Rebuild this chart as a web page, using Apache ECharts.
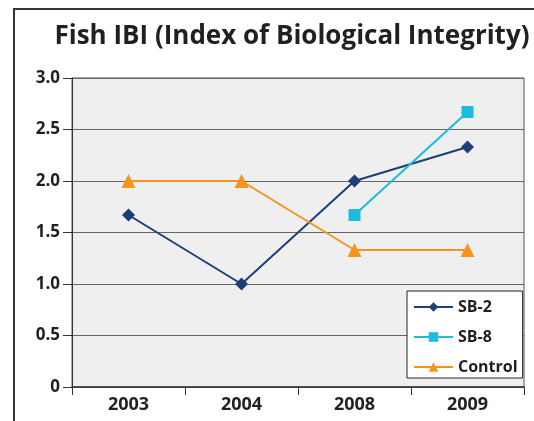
<!DOCTYPE html>
<html>
<head>
    <meta charset="utf-8"/>
    <title>Fish IBI</title>
    <script src="https://cdn.jsdelivr.net/npm/echarts@6/dist/echarts.min.js"></script>
    <style>
        html, body { margin: 0; padding: 0; background: #fff; }
    </style>
</head>
<body>
<div id="main" style="width: 534px; height: 421px"></div>
<script type="text/javascript">
    var years = ['2003', '2004', '2008', '2009'];
    var sb2 = [1.67, 1.0, 2.0, 2.33];
    var sb8 = [null, null, 1.67, 2.67];
    var control = [2.0, 2.0, 1.33, 1.33];

    var font = 'Open Sans';
    var myChart = echarts.init(document.getElementById('main'));

    var option = {
        animation: false,
        title: {
            text: 'Fish IBI (Index of Biological Integrity)',
            left: 287,
            textAlign: 'center',
            top: 19,
            textStyle: {fontFamily: font, fontWeight: 'bold', fontSize: 26, color: '#231f20'}
        },
        graphic: [
            {type: 'line', shape: {x1: 13, y1: 9, x2: 534, y2: 9}, style: {stroke: '#333', lineWidth: 2}},
            {type: 'line', shape: {x1: 14, y1: 8, x2: 14, y2: 421}, style: {stroke: '#333', lineWidth: 2}}
        ],
        grid: {
            left: 72, top: 78, right: 10, bottom: 34,
            show: true, backgroundColor: '#efefef', borderColor: '#555', borderWidth: 1
        },
        legend: {
            orient: 'vertical',
            left: 407, top: 291,
            backgroundColor: '#fff',
            borderColor: '#222', borderWidth: 1,
            padding: [8, 5, 3, 6],
            itemWidth: 39, itemHeight: 12, itemGap: 14,
            textStyle: {fontFamily: font, fontWeight: 'bold', fontSize: 16, lineHeight: 16, color: '#231f20'},
            data: ['SB-2', 'SB-8', 'Control']
        },
        xAxis: {
            type: 'category',
            data: years,
            boundaryGap: true,
            axisLine: {lineStyle: {color: '#333', width: 1.5}},
            axisTick: {show: true, length: 8, inside: false, lineStyle: {color: '#333'}},
            axisLabel: {fontFamily: font, fontWeight: 'bold', fontSize: 18, color: '#231f20', margin: 9}
        },
        yAxis: {
            type: 'value',
            min: 0, max: 3, interval: 0.5,
            axisLine: {show: true, lineStyle: {color: '#333', width: 1}},
            axisTick: {show: true, length: 9, lineStyle: {color: '#333'}},
            axisLabel: {
                fontFamily: font, fontWeight: 'bold', fontSize: 17, color: '#231f20', margin: 12,
                formatter: function (v) { return v === 0 ? '0' : v.toFixed(1); }
            },
            splitLine: {lineStyle: {color: '#666', width: 1.2}}
        },
        series: [
            {
                name: 'SB-2', type: 'line', data: sb2,
                symbol: 'diamond', symbolSize: 13,
                itemStyle: {color: '#1c3f7a'},
                lineStyle: {color: '#1c3f7a', width: 2}
            },
            {
                name: 'SB-8', type: 'line', data: sb8,
                symbol: 'rect', symbolSize: 12,
                itemStyle: {color: '#1bbcdc'},
                lineStyle: {color: '#1bbcdc', width: 2}
            },
            {
                name: 'Control', type: 'line', data: control,
                symbol: 'triangle', symbolSize: 14,
                itemStyle: {color: '#f7941d'},
                lineStyle: {color: '#f7941d', width: 2}
            }
        ]
    };

    myChart.setOption(option);
</script>
</body>
</html>
